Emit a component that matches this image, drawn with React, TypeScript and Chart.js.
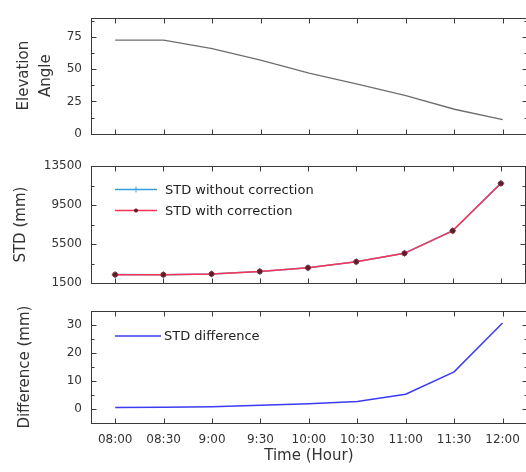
import React, { useEffect, useRef } from 'react';
import { Chart, registerables } from 'chart.js';

Chart.register(...registerables);

// ---------------- data ----------------
const timeLabels = ['08:00', '08:30', '9:00', '9:30', '10:00', '10:30', '11:00', '11:30', '12:00'];
const elevationAngle = [72.5, 72.5, 66, 57, 47, 38.5, 29.5, 19, 11];
const stdWithoutCorrection = [2361, 2351, 2431, 2691, 3062, 3683, 4555, 6873, 11761];
const stdWithCorrection = [2360, 2350, 2430, 2690, 3060, 3680, 4550, 6860, 11730];
const stdDifference = [0.55, 0.6, 0.8, 1.35, 1.9, 2.7, 5.3, 13.3, 30.8];

const elevTicks = [0, 12.5, 25, 37.5, 50, 62.5, 75, 87.5, 90];
const elevMajor = [0, 25, 50, 75];
const stdTicks = [1500, 3500, 5500, 7500, 9500, 11500, 13500];
const stdMajor = [1500, 5500, 9500, 13500];
const diffTicks = [-5, 0, 5, 10, 15, 20, 25, 30, 35];
const diffMajor = [0, 10, 20, 30];

const FONT = 'DejaVu Sans';
const TEXT = '#333333';
const FRAME = '#3a3a3a';

// ---------------- plugins ----------------
const framePlugin = {
  id: 'frame',
  afterDatasetsDraw(chart: any, _args: any, opts: any) {
    const { ctx, chartArea: a } = chart;
    const L = Math.round(a.left) + 0.5;
    const R = Math.round(a.right) + 0.5;
    const T = Math.round(a.top) + 0.5;
    const B = Math.round(a.bottom) + 0.5;
    ctx.save();
    ctx.strokeStyle = FRAME;
    ctx.lineWidth = 1;
    ctx.strokeRect(L, T, R - L, B - T);
    ctx.beginPath();
    const ys = chart.scales.y;
    ys.ticks.forEach((t: any) => {
      const p = Math.round(ys.getPixelForValue(t.value)) + 0.5;
      if (p <= T + 1 || p >= B - 1) return;
      const len = (opts.major || []).includes(t.value) ? 5 : 3;
      ctx.moveTo(L, p);
      ctx.lineTo(L + len, p);
      ctx.moveTo(R, p);
      ctx.lineTo(R - len, p);
    });
    const xs = chart.scales.x;
    xs.ticks.forEach((_t: any, i: number) => {
      const p = Math.round(xs.getPixelForTick(i)) + 0.5;
      ctx.moveTo(p, T);
      ctx.lineTo(p, T + 5);
      ctx.moveTo(p, B);
      ctx.lineTo(p, B - 5);
    });
    ctx.stroke();
    ctx.restore();
  },
};

const innerLegendPlugin = {
  id: 'innerLegend',
  afterDatasetsDraw(chart: any, _args: any, opts: any) {
    if (!opts || !opts.items) return;
    const { ctx } = chart;
    ctx.save();
    opts.items.forEach((dsIndex: number, k: number) => {
      const ds = chart.data.datasets[dsIndex];
      const y = opts.y + k * opts.rowGap;
      ctx.strokeStyle = ds.borderColor;
      ctx.lineWidth = 1.5;
      ctx.beginPath();
      ctx.moveTo(opts.x, y);
      ctx.lineTo(opts.x + opts.len, y);
      ctx.stroke();
      const cx = opts.x + opts.len / 2;
      if (ds.pointStyle === 'cross' && ds.pointRadius > 0) {
        ctx.strokeStyle = ds.pointBorderColor;
        ctx.lineWidth = 1;
        ctx.beginPath();
        ctx.moveTo(cx - 3, y);
        ctx.lineTo(cx + 3, y);
        ctx.moveTo(cx, y - 3);
        ctx.lineTo(cx, y + 3);
        ctx.stroke();
      } else if (ds.pointRadius > 0) {
        ctx.fillStyle = ds.pointBackgroundColor;
        ctx.beginPath();
        ctx.arc(cx, y, 2, 0, Math.PI * 2);
        ctx.fill();
      }
      ctx.fillStyle = '#222222';
      ctx.font = `${opts.fontSize}px "${FONT}"`;
      ctx.textBaseline = 'middle';
      ctx.textAlign = 'left';
      ctx.fillText(ds.label, opts.x + opts.len + opts.gap, y + 1);
    });
    ctx.restore();
  },
};

// ---------------- option builder ----------------
function buildOptions(cfg: any) {
  return {
    responsive: false,
    animation: false,
    events: [],
    layout: { padding: cfg.padding },
    plugins: {
      legend: { display: false },
      tooltip: { enabled: false },
      frame: { major: cfg.yMajor },
      innerLegend: cfg.legend || {},
    },
    elements: { line: { tension: 0 } },
    scales: {
      x: {
        type: 'category',
        offset: true,
        grid: { display: false, drawTicks: false },
        border: { display: false },
        ticks: {
          display: cfg.showX,
          autoSkip: false,
          maxRotation: 0,
          padding: 10,
          color: TEXT,
          font: { family: FONT, size: 12 },
        },
        title: {
          display: cfg.showX,
          text: 'Time (Hour)',
          color: TEXT,
          font: { family: FONT, size: 15, lineHeight: 1.2 },
          padding: { top: 0, bottom: 7 },
        },
        afterFit: (s: any) => {
          s.height = cfg.showX ? 49 : 0;
        },
      },
      y: {
        type: 'linear',
        min: cfg.yMin,
        max: cfg.yMax,
        afterBuildTicks: (s: any) => {
          s.ticks = cfg.yTicks.map((v: number) => ({ value: v }));
        },
        afterFit: (s: any) => {
          s.width = 91;
        },
        grid: { display: false, drawTicks: false },
        border: { display: false },
        ticks: {
          autoSkip: false,
          padding: 9,
          color: TEXT,
          font: { family: FONT, size: 12 },
          callback: (v: any) => (cfg.yMajor.includes(v) ? String(v) : ''),
        },
        title: {
          display: true,
          text: cfg.yTitle,
          color: TEXT,
          font: { family: FONT, size: 15, lineHeight: cfg.titleLineHeight },
          padding: { top: cfg.titlePad, bottom: 0 },
        },
      },
    },
  };
}

export default function App() {
  const c1 = useRef<HTMLCanvasElement>(null);
  const c2 = useRef<HTMLCanvasElement>(null);
  const c3 = useRef<HTMLCanvasElement>(null);

  useEffect(() => {
    document.body.style.margin = '0';
    document.body.style.overflow = 'hidden';
    document.body.style.background = '#ffffff';

    const chart1 = new Chart(c1.current as HTMLCanvasElement, {
      type: 'line',
      data: {
        labels: timeLabels,
        datasets: [
          {
            label: 'Elevation Angle',
            data: elevationAngle,
            borderColor: '#6e6e6e',
            borderWidth: 1.3,
            pointRadius: 0,
          },
        ],
      },
      options: buildOptions({
        padding: { left: 0, right: 3, top: 17.5, bottom: 13 },
        yMin: 0,
        yMax: 90,
        yTicks: elevTicks,
        yMajor: elevMajor,
        yTitle: ['Elevation', 'Angle'],
        titleLineHeight: 1.45,
        titlePad: 13.5,
        showX: false,
      }) as any,
      plugins: [framePlugin, innerLegendPlugin],
    });

    const chart2 = new Chart(c2.current as HTMLCanvasElement, {
      type: 'line',
      data: {
        labels: timeLabels,
        datasets: [
          {
            label: 'STD without correction',
            data: stdWithoutCorrection,
            borderColor: '#35a0dc',
            borderWidth: 1.5,
            pointStyle: 'cross',
            pointRadius: 3.5,
            pointBorderColor: '#35a0dc',
            pointBorderWidth: 1,
            order: 1,
          },
          {
            label: 'STD with correction',
            data: stdWithCorrection,
            borderColor: '#ff3355',
            borderWidth: 1.5,
            pointStyle: 'circle',
            pointRadius: 2.5,
            pointBackgroundColor: '#5a1f28',
            pointBorderColor: '#8a2a3a',
            pointBorderWidth: 1,
            order: 0,
          },
        ],
      },
      options: buildOptions({
        padding: { left: 0, right: 3, top: 11.5, bottom: 17 },
        yMin: 1500,
        yMax: 13500,
        yTicks: stdTicks,
        yMajor: stdMajor,
        yTitle: 'STD (mm)',
        titleLineHeight: 1.2,
        titlePad: 12.5,
        showX: false,
        legend: { items: [0, 1], x: 115, y: 39.5, rowGap: 21, len: 42, gap: 8, fontSize: 13 },
      }) as any,
      plugins: [framePlugin, innerLegendPlugin],
    });

    const chart3 = new Chart(c3.current as HTMLCanvasElement, {
      type: 'line',
      data: {
        labels: timeLabels,
        datasets: [
          {
            label: 'STD difference',
            data: stdDifference,
            borderColor: '#3b3bf5',
            borderWidth: 1.5,
            pointRadius: 0,
          },
        ],
      },
      options: buildOptions({
        padding: { left: 0, right: 3, top: 10, bottom: 0 },
        yMin: -5,
        yMax: 35,
        yTicks: diffTicks,
        yMajor: diffMajor,
        yTitle: 'Difference (mm)',
        titleLineHeight: 1.2,
        titlePad: 16,
        showX: true,
        legend: { items: [0], x: 115, y: 41, rowGap: 0, len: 46, gap: 3, fontSize: 13 },
      }) as any,
      plugins: [framePlugin, innerLegendPlugin],
    });

    return () => {
      chart1.destroy();
      chart2.destroy();
      chart3.destroy();
    };
  }, []);

  return (
    <div style={{ position: 'relative', width: 526, height: 472, overflow: 'hidden', background: '#fff' }}>
      <canvas ref={c1} width={530} height={150} style={{ position: 'absolute', left: 0, top: 0, width: 530, height: 150 }} />
      <canvas ref={c2} width={530} height={150} style={{ position: 'absolute', left: 0, top: 150, width: 530, height: 150 }} />
      <canvas ref={c3} width={530} height={177} style={{ position: 'absolute', left: 0, top: 295, width: 530, height: 177 }} />
    </div>
  );
}
